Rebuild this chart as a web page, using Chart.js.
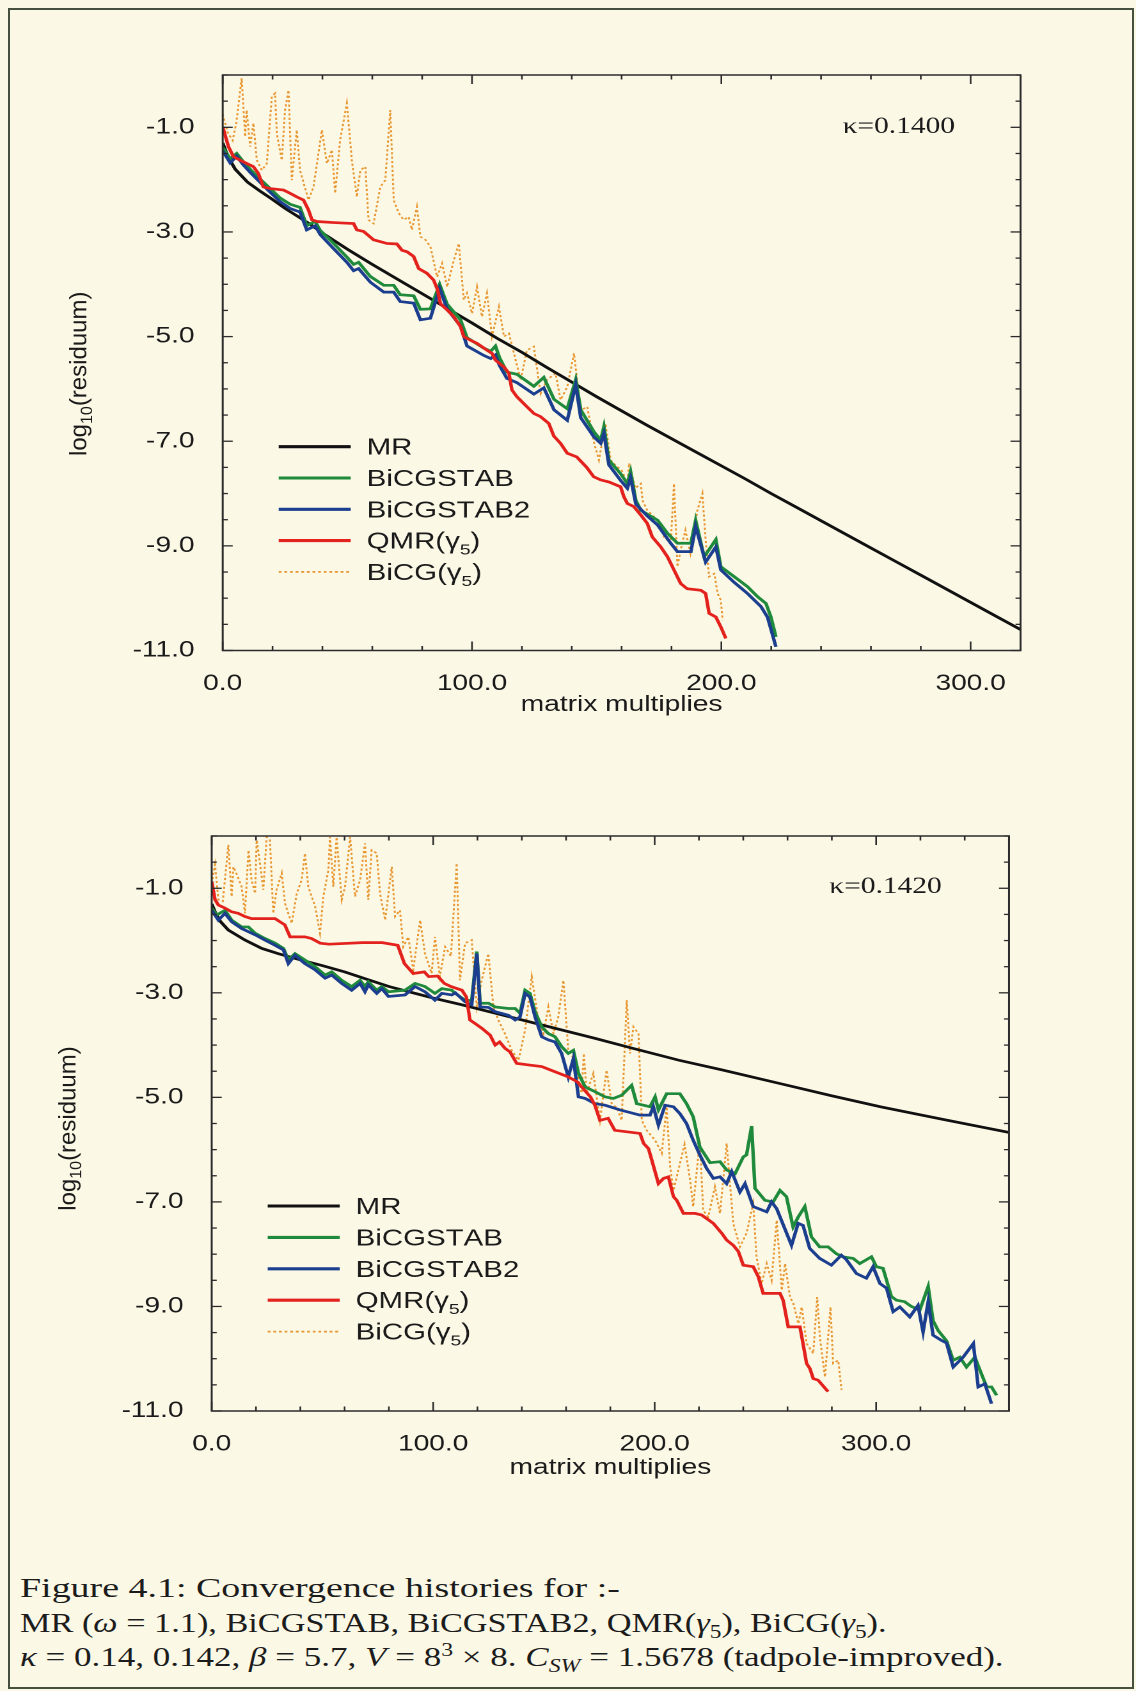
<!DOCTYPE html>
<html>
<head>
<meta charset="utf-8">
<script src="https://cdn.jsdelivr.net/npm/chart.js@4/dist/chart.umd.min.js"></script>
<style>
html,body{margin:0;padding:0;background:#fbf8e6;}
body{width:1136px;height:1691px;position:relative;overflow:hidden;}
#frame{position:absolute;left:8px;top:8px;width:1122px;height:1677px;border:2px solid #46503f;}
canvas{position:absolute;left:0;}
.cap{position:absolute;left:20px;font-family:'Liberation Serif','DejaVu Serif',serif;font-size:27px;line-height:34px;color:#1c1c1c;white-space:nowrap;transform-origin:0 50%;}
.cap sub,.cap sup{font-size:68%;line-height:0;}
</style>
</head>
<body>
<div id="frame"></div>
<canvas id="c1" width="888" height="730" style="top:30px;width:1136px;height:730px"></canvas>
<canvas id="c2" width="888" height="730" style="top:790px;width:1136px;height:730px"></canvas>
<div class="cap" id="cap1" style="top:1571px">Figure 4.1: Convergence histories for :-</div>
<div class="cap" id="cap2" style="top:1606px">MR (<i>ω</i> = 1.1), BiCGSTAB, BiCGSTAB2, QMR(<i>γ</i><sub>5</sub>), BiCG(<i>γ</i><sub>5</sub>).</div>
<div class="cap" id="cap3" style="top:1640px"><i>κ</i> = 0.14, 0.142, <i>β</i> = 5.7, <i>V</i> = 8<sup>3</sup> × 8. <i>C<sub>SW</sub></i> = 1.5678 (tadpole-improved).</div>
<script>
// ---------------- DATA ----------------
const seriesNames = ['MR', 'BiCGSTAB', 'BiCGSTAB2', 'QMR(γ₅)', 'BiCG(γ₅)'];
const yTickLabels = [-1, -3, -5, -7, -9, -11];
const xTickLabelsTop = [0, 100, 200, 300];
const xTickLabelsBottom = [0, 100, 200, 300];
const kappaTop = 'κ=0.1400';
const kappaBottom = 'κ=0.1420';

// Top panel (kappa = 0.1400)
const topMR = [[0,-1.3],[2,-1.55],[5,-1.8],[10,-2.05],[15,-2.22],[20,-2.38],[25,-2.55],[30,-2.7],[35,-2.85],[40,-3.02],[50,-3.33],[60,-3.62],[70,-3.9],[80,-4.18],[90,-4.46],[100,-4.74],[110,-5.03],[120,-5.3],[130,-5.59],[140,-5.87],[150,-6.15],[160,-6.42],[170,-6.69],[180,-6.95],[190,-7.21],[200,-7.47],[210,-7.73],[220,-8.0],[230,-8.26],[240,-8.52],[250,-8.78],[260,-9.04],[270,-9.3],[280,-9.56],[290,-9.82],[300,-10.08],[310,-10.34],[320,-10.6]];
const topBiCGSTAB = [[0,-1.38],[3,-1.6],[5.6,-1.5],[8.3,-1.66],[11,-1.8],[15,-1.99],[19,-2.17],[23,-2.35],[27,-2.47],[31,-2.53],[33.7,-2.88],[37.1,-2.8],[39.1,-2.97],[44.5,-3.22],[49.8,-3.48],[52.5,-3.62],[54.5,-3.58],[59.2,-3.85],[64.6,-4.02],[68.6,-4.02],[71.2,-4.2],[76.6,-4.22],[79.3,-4.48],[83.3,-4.47],[87,-4.0],[90,-4.38],[95.4,-4.68],[98,-5.02],[104.7,-5.22],[107.5,-5.28],[109.4,-5.18],[111,-5.4],[114,-5.68],[118,-5.72],[124.8,-5.95],[128.8,-5.78],[132.9,-6.2],[138.2,-6.38],[141.6,-5.82],[143.6,-6.4],[148.9,-6.82],[151.6,-6.98],[152.9,-6.72],[154.9,-7.36],[159.6,-7.62],[162.3,-7.81],[163.6,-7.58],[165.7,-8.13],[167.7,-8.32],[174.4,-8.51],[178.4,-8.76],[182.4,-8.95],[187.8,-8.95],[189.7,-8.51],[193.1,-9.21],[197.8,-8.88],[199.8,-9.4],[205.2,-9.59],[210.5,-9.78],[214.5,-9.97],[217.9,-10.1],[219.9,-10.36],[221.9,-10.74]];
const topBiCGSTAB2 = [[0,-1.45],[3,-1.68],[5.6,-1.55],[8.3,-1.72],[11,-1.86],[15,-2.05],[19,-2.24],[23,-2.42],[27,-2.55],[31,-2.62],[33.7,-2.96],[37.1,-2.88],[39.1,-3.05],[44.5,-3.32],[49.8,-3.58],[52.5,-3.74],[54.5,-3.7],[59.2,-3.96],[64.6,-4.15],[68.6,-4.15],[71.2,-4.33],[76.6,-4.36],[79.3,-4.68],[83.3,-4.65],[87,-4.08],[90,-4.47],[95.4,-4.8],[98,-5.18],[104.7,-5.36],[107.5,-5.42],[109.4,-5.35],[111,-5.55],[114,-5.8],[118,-5.88],[124.8,-6.1],[128.8,-5.98],[132.9,-6.4],[138.2,-6.6],[141.6,-5.92],[143.6,-6.55],[148.9,-6.92],[151.6,-7.04],[152.9,-6.85],[154.9,-7.45],[159.6,-7.75],[162.3,-7.9],[163.6,-7.7],[165.7,-8.2],[170.3,-8.43],[174.4,-8.6],[179.7,-8.95],[182.4,-9.11],[187.8,-9.11],[189.7,-8.63],[193.7,-9.31],[197.8,-9.02],[199.8,-9.46],[205.2,-9.7],[210.5,-9.91],[215.9,-10.16],[218.5,-10.36],[221.9,-10.93]];
const topQMR = [[0,-0.99],[2.3,-1.37],[4.3,-1.56],[7,-1.63],[9.6,-1.69],[12.3,-1.75],[14.3,-1.88],[16.3,-2.14],[19,-2.17],[24.4,-2.2],[27,-2.26],[29.7,-2.33],[32.4,-2.39],[34.4,-2.58],[35.8,-2.77],[37.8,-2.8],[44.5,-2.82],[52.5,-2.84],[53.8,-2.96],[56.5,-2.99],[60.5,-3.15],[65.9,-3.22],[69.9,-3.23],[71.9,-3.35],[74,-3.38],[76.6,-3.47],[78.6,-3.7],[81.9,-3.79],[84.6,-3.92],[86.2,-4.11],[87.3,-4.37],[90,-4.49],[92.7,-4.62],[95.4,-4.81],[96.7,-5.0],[99.4,-5.07],[102,-5.13],[106,-5.26],[108,-5.32],[109.4,-5.45],[112.8,-5.58],[114.8,-5.7],[116,-6.02],[118,-6.15],[122,-6.34],[124.8,-6.47],[127.5,-6.53],[130.8,-6.66],[132.8,-6.9],[135.5,-7.04],[138.2,-7.23],[142,-7.3],[146,-7.5],[148.8,-7.68],[151.6,-7.74],[155,-7.78],[159.6,-7.87],[160.9,-8.06],[162.3,-8.19],[164.9,-8.25],[167.7,-8.41],[170.3,-8.57],[172.3,-8.83],[175.7,-9.02],[178.4,-9.21],[181,-9.46],[183.7,-9.72],[186.3,-9.82],[191.8,-9.85],[193.7,-9.91],[195.1,-10.29],[197.8,-10.36],[199.8,-10.55],[201.8,-10.77]];
const topBiCG = [[0,-0.75],[2,-1.1],[4,-1.25],[5.5,-0.9],[7.6,-0.06],[9,-1.18],[9.6,-0.67],[11,-1.37],[12.3,-0.92],[13.7,-1.63],[15.7,-1.82],[17.7,-1.69],[19.7,-0.41],[21,-0.35],[21.7,-1.12],[23.7,-1.63],[25,-0.67],[26.4,-0.29],[27.7,-2.01],[29.7,-1.05],[31,-1.82],[34.4,-2.39],[36.4,-2.14],[39.8,-1.05],[41.8,-1.69],[43.8,-1.43],[45.1,-2.26],[47.1,-1.24],[49.8,-0.54],[51.8,-1.63],[53.8,-2.33],[55.2,-1.82],[57.2,-1.75],[58.5,-2.77],[60.5,-2.84],[63.2,-2.14],[65.2,-2.01],[67.2,-0.67],[68.6,-2.39],[70.6,-2.64],[72.6,-2.77],[74.6,-2.71],[75.9,-2.96],[77.9,-2.52],[79.3,-3.09],[81.3,-3.15],[83.3,-3.28],[86,-3.86],[88,-3.6],[90,-4.05],[92.7,-3.54],[94.7,-3.22],[96.7,-4.3],[98,-4.17],[100,-4.56],[102,-4.05],[104,-4.62],[106,-4.17],[108,-5.0],[110.8,-4.43],[112.8,-5.0],[114.8,-4.94],[117.5,-5.45],[119.5,-5.83],[122,-5.26],[124.8,-5.19],[127.5,-6.09],[130,-5.83],[133.5,-5.7],[135.5,-6.21],[138.2,-5.96],[140.9,-5.32],[143.6,-6.41],[146.2,-6.34],[149,-7.04],[150.9,-7.36],[153.5,-6.66],[155.6,-7.36],[158.2,-7.49],[160,-7.55],[162.3,-7.81],[163,-7.42],[165.5,-7.9],[167.7,-7.81],[168.4,-8.13],[170.3,-8.32],[175.7,-8.57],[177,-8.83],[179.7,-8.95],[181,-7.81],[182.4,-9.4],[183.7,-9.08],[185.6,-8.7],[187.6,-9.14],[190.4,-8.32],[192.4,-8.0],[193.7,-8.89],[195.1,-9.59],[197.2,-9.53],[198.5,-9.91],[199.8,-10.04],[200.5,-10.42]];

// Bottom panel (kappa = 0.1420)
const botMR = [[0,-1.3],[2,-1.5],[4,-1.64],[7.5,-1.8],[15,-1.99],[22.6,-2.15],[30,-2.25],[40,-2.37],[50,-2.48],[60,-2.6],[70,-2.74],[80,-2.88],[90,-2.99],[100,-3.1],[113,-3.23],[128,-3.39],[143,-3.55],[158,-3.71],[173,-3.87],[190,-4.06],[211,-4.29],[230,-4.47],[256,-4.73],[280,-4.97],[302,-5.18],[330,-5.42],[360,-5.67]];
const botBiCGSTAB = [[0,-1.38],[2.3,-1.51],[6,-1.42],[9,-1.61],[13.5,-1.74],[16.6,-1.74],[19.6,-1.86],[24,-1.96],[28.6,-2.05],[32.4,-2.15],[34.6,-2.37],[37.6,-2.25],[42,-2.37],[46.7,-2.5],[51.2,-2.66],[54.2,-2.6],[58.7,-2.76],[63.2,-2.88],[67,-2.76],[69.2,-2.88],[70.7,-2.79],[74.5,-2.95],[76.8,-2.88],[79.8,-2.98],[87.3,-2.95],[91.8,-2.82],[96.3,-2.88],[100.8,-3.01],[103.9,-2.92],[108.4,-2.95],[109.9,-3.01],[114.4,-3.14],[117.4,-3.15],[119.7,-2.21],[121.2,-3.2],[125,-3.2],[128,-3.27],[134,-3.3],[137,-3.3],[139.2,-3.39],[141.5,-2.95],[143.7,-3.01],[146,-3.36],[149,-3.65],[152,-3.78],[155,-3.84],[158,-4.03],[161,-4.16],[163.3,-4.1],[165.6,-4.54],[168.6,-4.8],[173,-4.89],[177.6,-4.99],[181.3,-5.02],[185.1,-4.96],[189.6,-4.77],[191.9,-5.12],[194.9,-5.15],[197.9,-5.18],[200.2,-4.99],[201.7,-5.24],[205.4,-4.93],[211.4,-4.93],[214.4,-5.12],[217.4,-5.37],[220.4,-5.95],[225,-6.25],[229.5,-6.23],[232.5,-6.39],[236.3,-6.46],[240,-6.14],[241.5,-6.1],[243.8,-5.55],[245.3,-6.74],[249.8,-6.97],[253.5,-7.0],[256.6,-6.78],[259.5,-6.9],[262.5,-7.48],[264.8,-7.29],[267.8,-7.09],[270.8,-7.67],[274.5,-7.86],[278.3,-7.86],[282,-7.99],[285,-8.05],[289.6,-8.08],[292.6,-8.18],[297.9,-8.05],[300.1,-8.24],[303.1,-8.27],[306.9,-8.81],[309.2,-8.88],[312.9,-8.91],[315.9,-9.0],[319.7,-9.07],[323.5,-8.62],[325.7,-9.27],[328,-9.46],[331.8,-9.66],[334.8,-10.03],[337.8,-9.97],[340.8,-10.16],[344.6,-9.97],[346.9,-10.22],[349.9,-10.54],[352.1,-10.54],[354.4,-10.7]];
const botBiCGSTAB2 = [[0,-1.42],[3,-1.61],[6,-1.48],[9,-1.64],[13.5,-1.77],[19.6,-1.89],[24,-1.99],[28.6,-2.09],[32.4,-2.18],[34.6,-2.44],[37.6,-2.28],[42,-2.44],[46.7,-2.56],[51.2,-2.72],[54.2,-2.66],[58.7,-2.82],[63.2,-2.95],[67,-2.82],[69.2,-2.98],[70.7,-2.85],[74.5,-3.01],[76.8,-2.92],[79.8,-3.07],[87.3,-3.04],[91.8,-2.88],[96.3,-2.98],[100.8,-3.14],[103.9,-3.01],[108.4,-3.04],[110,-3.0],[114.4,-3.17],[117.4,-3.23],[119.7,-2.25],[121.2,-3.27],[125,-3.28],[128,-3.36],[134,-3.43],[137,-3.52],[139.2,-3.46],[141.5,-3.01],[143.7,-3.08],[146,-3.46],[149,-3.84],[152,-3.9],[155,-3.94],[158,-4.16],[161,-4.61],[163.3,-4.26],[165.6,-4.99],[168.6,-5.02],[173,-5.12],[177.6,-5.15],[184.3,-5.24],[193.4,-5.34],[197.9,-5.34],[199.4,-5.18],[201.7,-5.53],[204.7,-5.15],[208.5,-5.18],[211.4,-5.31],[214.4,-5.5],[217.4,-5.82],[220.4,-6.1],[223.5,-6.36],[226.5,-6.55],[229.5,-6.52],[232.5,-6.65],[234.8,-6.42],[238.5,-6.81],[240.8,-6.65],[244.5,-7.09],[250.6,-7.19],[252.8,-7.0],[255.1,-7.13],[261.8,-7.83],[264.8,-7.41],[267,-7.45],[270,-7.89],[274.5,-8.08],[279.8,-8.21],[284.3,-8.02],[286.5,-8.1],[291.1,-8.37],[295.6,-8.46],[298.6,-8.24],[301.7,-8.56],[304.7,-8.65],[307.7,-9.1],[310.7,-9.01],[315.2,-9.2],[318.9,-8.98],[321.2,-9.49],[323.5,-8.91],[325.7,-9.55],[329.5,-9.65],[331.8,-9.7],[334.8,-10.16],[339.3,-9.97],[343.9,-9.71],[346.1,-10.54],[349.1,-10.48],[352.1,-10.86]];
const botQMR = [[0,-0.87],[1.5,-1.22],[3,-1.32],[6,-1.38],[9,-1.45],[12,-1.48],[15,-1.54],[18,-1.58],[28.6,-1.58],[33,-1.7],[35.4,-1.93],[42,-1.93],[45,-1.96],[49,-2.05],[53,-2.07],[68,-2.04],[77,-2.04],[84,-2.09],[87,-2.44],[91,-2.63],[96,-2.6],[98,-2.69],[102,-2.68],[105,-2.82],[108,-2.88],[113,-2.95],[115,-3.08],[116.6,-3.52],[119,-3.59],[122,-3.68],[125.7,-3.81],[128,-4.0],[130,-3.94],[132.4,-4.06],[134.7,-4.13],[137.7,-4.35],[143,-4.38],[149,-4.41],[155,-4.51],[161,-4.61],[165,-4.7],[167,-4.8],[171,-4.99],[173,-5.15],[175.3,-5.44],[179,-5.4],[182,-5.63],[193.4,-5.69],[195,-5.88],[197.2,-5.98],[198.7,-6.2],[201.7,-6.65],[204,-6.55],[206.2,-6.52],[207,-6.65],[208.5,-6.9],[210,-6.97],[213,-7.22],[218.2,-7.22],[221.2,-7.25],[223.5,-7.32],[226.5,-7.41],[230.3,-7.6],[232.5,-7.73],[235.5,-7.83],[237.8,-7.95],[240,-8.21],[244.5,-8.24],[246.8,-8.43],[249,-8.75],[256.6,-8.75],[258,-8.88],[260.3,-9.39],[265.6,-9.39],[266.3,-9.55],[268.6,-10.09],[270.1,-10.19],[271.6,-10.38],[273.8,-10.41],[278.3,-10.63]];
const botBiCG = [[0,-0.91],[1.5,-0.55],[3,-1.22],[5,-1.25],[7.5,-0.17],[9,-1.16],[9.8,-0.59],[11.5,-0.75],[13.5,-0.97],[15,-1.48],[16.6,-0.27],[18,-0.84],[19.6,-1.1],[20.3,-0.08],[21.8,-0.52],[23.3,-1.03],[24.8,-0.02],[26.3,-0.08],[27.8,-1.48],[29.3,-1.03],[31.6,-0.71],[33.1,-1.29],[36.1,-1.67],[38.4,-1.1],[40.6,-0.84],[42.1,-0.33],[43.6,-0.97],[46.7,-1.35],[48.9,-1.86],[50.4,-1.16],[52.7,-0.65],[53.4,-0.02],[54.9,-0.97],[56.4,-0.02],[58.7,-1.22],[60.2,-0.97],[62.5,-0.02],[64.7,-1.16],[67,-0.84],[69.2,-0.14],[70.7,-1.22],[72.2,-0.27],[74.5,-0.33],[76,-1.1],[78.3,-1.61],[81.3,-0.59],[82.8,-1.54],[85,-1.42],[86.5,-2.12],[88.8,-1.93],[91,-2.56],[94.1,-1.61],[96.3,-2.25],[99.3,-2.63],[100.8,-1.93],[103,-2.69],[105.4,-2.12],[108,-2.3],[110.6,-0.52],[112.1,-2.76],[114.4,-2.05],[117.4,-1.99],[119.7,-3.27],[121.9,-2.76],[124.9,-2.25],[127.2,-3.27],[129.4,-3.52],[132.4,-3.78],[135.5,-4.1],[138.5,-4.29],[141.5,-3.71],[144.5,-2.69],[147.5,-3.52],[149.8,-3.78],[152,-3.27],[154.3,-3.78],[156.5,-3.46],[158.8,-2.76],[161,-4.1],[164,-4.29],[167,-4.92],[168,-4.16],[169.3,-4.92],[172.3,-4.54],[175.3,-5.44],[178.3,-4.48],[180.6,-5.12],[183,-5.2],[185.1,-5.44],[187.4,-3.14],[188.9,-4.16],[190.4,-3.65],[192.7,-3.78],[194.2,-5.44],[196.4,-5.63],[200.2,-5.82],[203.2,-6.07],[205.4,-5.18],[207,-6.33],[208.5,-6.78],[211.4,-6.27],[213.5,-5.9],[216,-6.58],[217.4,-7.09],[220.4,-5.82],[221.9,-7.16],[224.2,-7.29],[227.2,-6.71],[229.5,-7.22],[232.5,-5.88],[235.5,-7.41],[238.5,-7.86],[241.5,-7.6],[244.5,-7.03],[246,-8.05],[248.3,-8.56],[250.6,-8.18],[252.8,-8.5],[255.1,-7.35],[257.4,-8.69],[258.9,-8.18],[261.1,-8.82],[262.6,-8.94],[264.9,-9.33],[266.4,-9.01],[268.6,-9.71],[271.6,-9.9],[273.4,-8.82],[274.6,-9.58],[276.9,-10.35],[279.4,-9.01],[280.6,-10.09],[282.9,-10.03],[284.4,-10.6]];

// ---------------- STYLE ----------------
const S = 1136 / 888;          // horizontal stretch of the scanned figure
const CW = 888, CH = 730;
const SANS = '"Liberation Sans", Arial, sans-serif';
const SERIF = '"Liberation Serif", "DejaVu Serif", serif';
const TXT = '#1a1a1a';
const seriesStyle = [
  {color:'#111111', width:2.7, dash:[], order:4},
  {color:'#1f8a3b', width:2.7, dash:[], order:3},
  {color:'#1b3e8e', width:2.7, dash:[], order:2},
  {color:'#e3211d', width:2.7, dash:[], order:1},
  {color:'#e8962f', width:1.5, dash:[2.2,2.2], order:5}
];
const SUBS = {'₀':'0','₁':'1','₂':'2','₃':'3','₄':'4','₅':'5','₆':'6','₇':'7','₈':'8','₉':'9'};

function drawRich(ctx, text, x, baseY, size) {
  let cx = x;
  for (const ch of text) {
    if (SUBS[ch]) {
      ctx.font = Math.round(size*0.65) + 'px ' + SANS;
      ctx.fillText(SUBS[ch], cx, baseY + size*0.26);
      cx += ctx.measureText(SUBS[ch]).width;
    } else {
      ctx.font = size + 'px ' + SANS;
      ctx.fillText(ch, cx, baseY);
      cx += ctx.measureText(ch).width;
    }
  }
}

const decoPlugin = {
  id: 'deco',
  afterDraw(chart) {
    const o = chart.options.plugins.deco;
    const {ctx, chartArea: a} = chart;
    const xs = chart.scales.x, ys = chart.scales.y;
    ctx.save();
    ctx.strokeStyle = '#2b2b2b';
    ctx.lineWidth = 1.3;
    ctx.setLineDash([]);
    const seg = (x1,y1,x2,y2) => { ctx.beginPath(); ctx.moveTo(x1,y1); ctx.lineTo(x2,y2); ctx.stroke(); };
    xs.ticks.forEach(t => {
      const px = xs.getPixelForValue(t.value);
      const len = o.xMajor.some(v => Math.abs(v - t.value) < 1e-6) ? 9 : 4.5;
      seg(px, a.bottom, px, a.bottom - len);
      seg(px, a.top, px, a.top + len);
    });
    ys.ticks.forEach(t => {
      const py = ys.getPixelForValue(t.value);
      const major = yTickLabels.some(v => Math.abs(v - t.value) < 1e-6);
      const len = (major ? 10 : 5) / S;
      seg(a.left, py, a.left + len, py);
      seg(a.right, py, a.right - len, py);
    });
    ctx.lineWidth = 1.5;
    ctx.strokeRect(a.left, a.top, a.right - a.left, a.bottom - a.top);

    // legend
    const ds = chart.data.datasets;
    ctx.textBaseline = 'alphabetic';
    ctx.textAlign = 'left';
    ds.forEach((d, i) => {
      const yy = a.top + o.legTop + i * o.legStep;
      ctx.save();
      ctx.strokeStyle = d.borderColor;
      ctx.lineWidth = d.borderWidth + (d.borderDash.length ? 0.2 : 0.4);
      ctx.setLineDash(d.borderDash);
      seg(a.left + 56/S, yy, a.left + 128/S, yy);
      ctx.restore();
      ctx.fillStyle = TXT;
      drawRich(ctx, d.label, a.left + 144/S, yy + 8, 23);
    });

    // kappa label
    ctx.fillStyle = TXT;
    ctx.font = '23px ' + SERIF;
    ctx.textAlign = 'right';
    ctx.fillText(o.kappa, a.right - o.kRight/S, a.top + o.kY + 8);

    // y-axis title (not stretched)
    ctx.save();
    ctx.translate(a.left - 136.5/S, (a.top + a.bottom)/2 + o.titleShift);
    ctx.scale(1/S, 1);
    ctx.rotate(-Math.PI/2);
    ctx.textAlign = 'left';
    ctx.font = '24px ' + SANS;
    const w1 = ctx.measureText('log').width;
    const w3 = ctx.measureText('(residuum)').width;
    ctx.font = '16px ' + SANS;
    const w2 = ctx.measureText('10').width;
    let x0 = -(w1 + w2 + w3)/2;
    ctx.font = '24px ' + SANS; ctx.fillText('log', x0, 0);
    ctx.font = '16px ' + SANS; ctx.fillText('10', x0 + w1, 6);
    ctx.font = '24px ' + SANS; ctx.fillText('(residuum)', x0 + w1 + w2, 0);
    ctx.restore();
    ctx.restore();
  }
};

function build(id, p) {
  const canvas = document.getElementById(id);
  const left = p.plotLeft / S, right = p.plotRight / S;
  const top = p.plotTop - p.canvasTop, bottom = p.plotBottom - p.canvasTop;
  const tickFont = {family: SANS, size: 22};
  return new Chart(canvas, {
    type: 'line',
    data: {
      datasets: p.series.map((pts, i) => ({
        label: seriesNames[i],
        data: pts.map(q => ({x: q[0], y: q[1]})),
        borderColor: seriesStyle[i].color,
        borderWidth: seriesStyle[i].width,
        borderDash: seriesStyle[i].dash,
        order: seriesStyle[i].order,
        pointRadius: 0,
        tension: 0,
        fill: false
      }))
    },
    options: {
      responsive: false,
      animation: false,
      devicePixelRatio: 2,
      events: [],
      layout: {padding: {left: 0, top: top, right: CW - right, bottom: 0}},
      plugins: {
        legend: {display: false},
        tooltip: {enabled: false},
        deco: {xMajor: p.xLabels, legTop: p.legTop, legStep: p.legStep, kappa: p.kappa, kRight: p.kRight, kY: p.kY, titleShift: p.titleShift}
      },
      scales: {
        x: {
          type: 'linear', min: 0, max: p.xMax,
          grid: {display: false}, border: {display: false},
          ticks: {stepSize: 20, autoSkip: false, maxRotation: 0, padding: 12, font: tickFont, color: TXT,
            callback: v => p.xLabels.some(L => Math.abs(L - v) < 1e-6) ? Number(v).toFixed(1) : ''},
          title: {display: true, text: 'matrix multiplies', font: {family: SANS, size: 22}, color: TXT,
            padding: {top: 0, bottom: p.xTitlePad}},
          afterFit: s => { s.height = CH - bottom; }
        },
        y: {
          type: 'linear', min: -11, max: 0,
          grid: {display: false}, border: {display: false},
          ticks: {stepSize: 0.5, autoSkip: false, padding: 14, font: tickFont, color: TXT,
            callback: v => yTickLabels.some(L => Math.abs(L - v) < 1e-6) ? Number(v).toFixed(1) : ''},
          afterFit: s => { s.width = left; }
        }
      }
    },
    plugins: [decoPlugin]
  });
}

build('c1', {
  canvasTop: 30, plotLeft: 222.7, plotRight: 1020.5, plotTop: 75, plotBottom: 650.5,
  xMax: 320, xLabels: xTickLabelsTop, xTitlePad: 41.8,
  series: [topMR, topBiCGSTAB, topBiCGSTAB2, topQMR, topBiCG],
  legTop: 371.7, legStep: 31.3, kappa: kappaTop, kRight: 65.5, kY: 50, titleShift: 11
});
build('c2', {
  canvasTop: 790, plotLeft: 211.7, plotRight: 1009, plotTop: 836, plotBottom: 1411,
  xMax: 360, xLabels: xTickLabelsBottom, xTitlePad: 38.8,
  series: [botMR, botBiCGSTAB, botBiCGSTAB2, botQMR, botBiCG],
  legTop: 370, legStep: 31.4, kappa: kappaBottom, kRight: 67.3, kY: 49, titleShift: 5
});

// caption: fit each line to its width in the scan
[['cap1', 600], ['cap2', 866], ['cap3', 984]].forEach(([id, w]) => {
  const el = document.getElementById(id);
  el.style.transform = 'scaleX(' + (w / el.offsetWidth).toFixed(4) + ')';
});
</script>
</body>
</html>
